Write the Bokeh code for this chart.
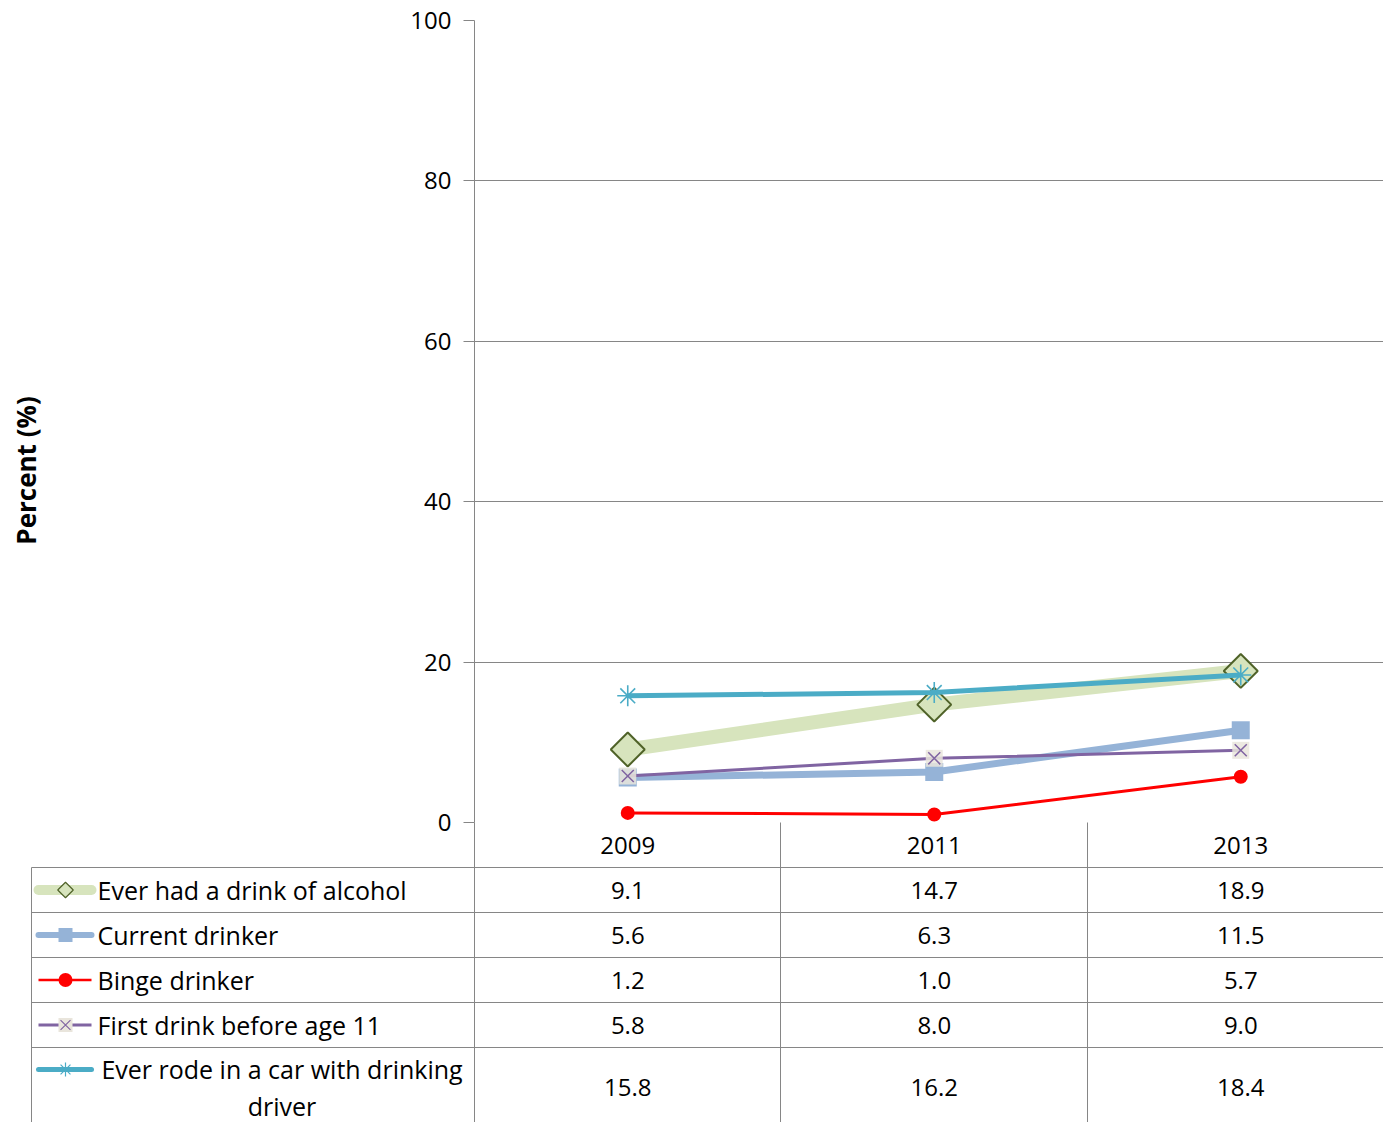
import math
from bokeh.plotting import figure
from bokeh.models import Range1d, FixedTicker
from bokeh.core.properties import value
from bokeh.embed import file_html
from bokeh.resources import INLINE

# ---------------- data ----------------
years = [2009, 2011, 2013]
year_labels = ["2009", "2011", "2013"]
series_names = ["Ever had a drink of alcohol", "Current drinker", "Binge drinker",
                "First drink before age 11", "Ever rode in a car with drinking\ndriver"]
ever_drink = [9.1, 14.7, 18.9]
current_drinker = [5.6, 6.3, 11.5]
binge_drinker = [1.2, 1.0, 5.7]
first_drink = [5.8, 8.0, 9.0]
rode_drinking = [15.8, 16.2, 18.4]
y_ticks = [0, 20, 40, 60, 80, 100]
y_axis_title = "Percent (%)"

FONT_NAME = "Open Sans"
FONT = value(FONT_NAME)
FS = "24px"
FS_NAMES = "25px"
GRID = "#868686"

# ---------------- layout constants (screen px) ----------------
W, H = 1383, 1122
FRAME_L, FRAME_T, FRAME_B = 474, 20, 822
PX_PER_YEAR = 153.25  # 306.5 px per 2-year column

# ---------------- chart ----------------
p = figure(width=W, height=H,
           x_range=Range1d(2008, 2008 + (W - FRAME_L) / PX_PER_YEAR),
           y_range=Range1d(0, 100),
           output_backend="svg", toolbar_location=None,
           x_axis_location=None,
           min_border_left=FRAME_L, min_border_right=0, min_border_top=FRAME_T,
           min_border_bottom=H - FRAME_B,
           outline_line_color=None, background_fill_color="white", border_fill_color="white")
p.xgrid.visible = False
p.ygrid.grid_line_color = GRID
p.ygrid.grid_line_width = 1
p.yaxis.ticker = FixedTicker(ticks=y_ticks)
p.yaxis.axis_line_color = GRID
p.yaxis.major_tick_line_color = GRID
p.yaxis.major_tick_out = 11
p.yaxis.major_tick_in = 0
p.yaxis.minor_tick_line_color = None
p.yaxis.major_label_text_font = FONT_NAME
p.yaxis.major_label_text_font_size = FS
p.yaxis.major_label_text_color = "black"
p.yaxis.major_label_standoff = 12

# series 1: ever had a drink
p.line(years, ever_drink, line_color="#D7E4BD", line_width=14, line_join="round")
p.scatter(years, ever_drink, marker="square", angle=math.pi / 4, size=24,
          fill_color="#D7E4BD", line_color="#4F6228", line_width=2)
# series 2: current drinker
p.line(years, current_drinker, line_color="#95B3D7", line_width=7)
p.scatter(years, current_drinker, marker="square", size=18,
          fill_color="#95B3D7", line_color=None)
# series 3: binge drinker
p.line(years, binge_drinker, line_color="#FF0000", line_width=3)
p.scatter(years, binge_drinker, marker="circle", size=14,
          fill_color="#FF0000", line_color=None)
# series 4: first drink before 11
p.line(years, first_drink, line_color="#8064A2", line_width=3)
p.scatter(years, first_drink, marker="square", size=17,
          fill_color="#E9E5DC", fill_alpha=0.85, line_color=None)
p.scatter(years, first_drink, marker="x", size=17,
          line_color="#8064A2", line_width=1.5)
# series 5: rode with drinking driver
p.line(years, rode_drinking, line_color="#4BACC6", line_width=5)
p.scatter(years, rode_drinking, marker="asterisk", size=21,
          line_color="#4BACC6", line_width=1.6)

# ---------------- data table + axis title (transparent overlay) ----------------
t = figure(width=W, height=H, x_range=Range1d(0, W), y_range=Range1d(H, 0),
           output_backend="svg", toolbar_location=None,
           x_axis_location=None, y_axis_location=None,
           min_border=0, outline_line_color=None,
           background_fill_color=None, border_fill_color=None)
t.styles = {"position": "absolute", "top": "0px", "left": "0px"}
t.xgrid.visible = False
t.ygrid.visible = False

t.text(x=[25], y=[470], text=[y_axis_title], angle=math.pi / 2,
       text_align="center", text_baseline="middle", text_font=FONT,
       text_font_style="bold", text_font_size="26px", text_color="black")

TABLE_LEFT, TABLE_RIGHT = 31, W
COL_EDGES = [474, 780, 1087]
HEAD_BOT = 867
ROW_H = 45
row_tops = [HEAD_BOT + i * ROW_H for i in range(5)]
row_centers = [rt + ROW_H / 2 for rt in row_tops[:4]] + [1087]

# grid lines
t.segment(x0=[TABLE_LEFT] * 5, x1=[TABLE_RIGHT] * 5, y0=row_tops, y1=row_tops,
          line_color=GRID, line_width=1)
t.segment(x0=[TABLE_LEFT] + COL_EDGES, x1=[TABLE_LEFT] + COL_EDGES,
          y0=[HEAD_BOT] + [FRAME_B] * 3, y1=[H] * 4, line_color=GRID, line_width=1)

col_centers = [FRAME_L + (y - 2008) * PX_PER_YEAR for y in years]
t.text(x=col_centers, y=[(FRAME_B + HEAD_BOT) / 2] * 3, text=year_labels,
       text_align="center", text_baseline="middle", text_font=FONT,
       text_font_size=FS, text_color="black")

all_vals = [ever_drink, current_drinker, binge_drinker, first_drink, rode_drinking]
for vals, yc in zip(all_vals, row_centers):
    t.text(x=col_centers, y=[yc] * 3, text=["%.1f" % v for v in vals],
           text_align="center", text_baseline="middle", text_font=FONT,
           text_font_size=FS, text_color="black")

# legend names
t.text(x=[97] * 4, y=row_centers[:4], text=series_names[:4], text_align="left",
       text_baseline="middle", text_font=FONT, text_font_size=FS_NAMES, text_color="black")
t.text(x=[281.5], y=[row_centers[4]], text=[series_names[4]], text_align="center",
       text_baseline="middle", text_font=FONT, text_font_size=FS_NAMES, text_color="black",
       text_line_height=1.1)

# legend keys
key_y = row_centers[:4] + [1069]
KX0, KX1, KM = 38, 91, 65
t.line([KX0, KX1], [key_y[0]] * 2, line_color="#D7E4BD", line_width=10, line_cap="round")
t.scatter([KM], [key_y[0]], marker="square", angle=math.pi / 4, size=11,
          fill_color="#D7E4BD", line_color="#4F6228", line_width=1.2)
t.line([KX0, KX1], [key_y[1]] * 2, line_color="#95B3D7", line_width=6, line_cap="round")
t.scatter([KM], [key_y[1]], marker="square", size=14, fill_color="#95B3D7", line_color=None)
t.line([KX0, KX1], [key_y[2]] * 2, line_color="#FF0000", line_width=2.5)
t.scatter([KM], [key_y[2]], marker="circle", size=14, fill_color="#FF0000", line_color=None)
t.line([KX0, KX1], [key_y[3]] * 2, line_color="#8064A2", line_width=3)
t.scatter([KM], [key_y[3]], marker="square", size=14, fill_color="#E9E5DC", line_color=None)
t.scatter([KM], [key_y[3]], marker="x", size=14, line_color="#8064A2", line_width=1.2)
t.line([KX0, KX1], [key_y[4]] * 2, line_color="#4BACC6", line_width=5, line_cap="round")
t.scatter([KM], [key_y[4]], marker="asterisk", size=14, line_color="#4BACC6", line_width=1.2)

open("out.html", "w").write(file_html([p, t], INLINE))
